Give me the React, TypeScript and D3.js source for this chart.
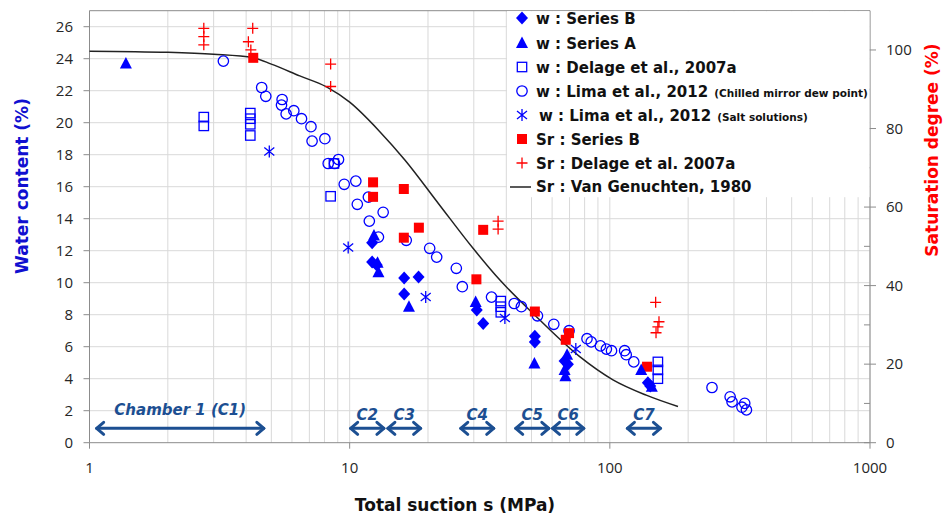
import React from 'react';
import * as d3 from 'd3';

const WIDTH = 943;
const HEIGHT = 516;

// Water content w (%) against total suction s (MPa): [s, w]
const wSeriesB: [number, number][] = [
  [12.2, 12.5], [12.2, 11.3], [12.7, 11.1], [16.2, 10.3], [18.4, 10.35], [16.2, 9.3],
  [30.8, 8.3], [32.6, 7.45], [51.5, 6.65], [51.5, 6.3], [67, 5.1], [69, 4.9],
  [140, 3.75], [143, 3.55],
];
const wSeriesA: [number, number][] = [
  [1.38, 23.7], [12.4, 12.95], [12.8, 11.25], [12.9, 10.65], [16.9, 8.5], [30.5, 8.8],
  [51.3, 4.95], [68.5, 5.5], [67, 4.55], [67.5, 4.15], [132, 4.55], [145, 3.5],
];
const wDelage: [number, number][] = [
  [2.75, 20.35], [2.75, 19.8], [4.15, 20.6], [4.15, 20.25], [4.15, 19.9], [4.15, 19.2],
  [8.45, 15.4], [8.7, 17.45], [38.1, 8.85], [38.1, 8.5], [38.1, 8.15],
  [153, 5.05], [153, 4.55], [153, 4.0],
];
const wLimaMirror: [number, number][] = [
  [3.27, 23.85], [4.59, 22.2], [4.76, 21.65], [5.5, 21.45], [5.47, 21.1], [5.7, 20.55],
  [6.1, 20.75], [6.53, 20.25], [7.1, 19.75], [7.17, 18.85], [8.03, 19.0], [8.27, 17.45],
  [8.75, 17.45], [9.06, 17.7], [9.53, 16.15], [10.56, 16.35], [10.7, 14.9], [11.8, 15.35],
  [11.9, 13.85], [13.45, 14.4], [12.9, 12.85], [16.5, 12.65], [20.3, 12.15], [21.6, 11.6],
  [25.7, 10.9], [27.1, 9.75], [35.1, 9.1], [42.9, 8.7], [45.7, 8.5], [52.7, 7.93],
  [60.9, 7.4], [69.7, 7.0], [81.7, 6.5], [84.8, 6.3], [92, 6.05], [97, 5.85],
  [101.5, 5.75], [114, 5.75], [115.6, 5.5], [123.6, 5.05], [247, 3.45], [290, 2.87],
  [295, 2.55], [330, 2.46], [322, 2.22], [335, 2.05],
];
const wLimaSalt: [number, number][] = [
  [4.91, 18.2], [9.87, 12.2], [19.6, 9.1], [39.5, 7.8], [74, 5.85],
];

// Saturation degree Sr (%) against total suction s (MPa): [s, Sr]
const srSeriesB: [number, number][] = [
  [4.26, 98.0], [12.3, 66.3], [12.3, 62.6], [16.15, 64.6], [18.45, 54.75], [16.15, 52.2],
  [32.6, 54.2], [30.7, 41.6], [51.5, 33.4], [69.7, 27.9], [67.7, 26.2], [139, 19.35],
];
const srDelage: [number, number][] = [
  [2.75, 105.5], [2.75, 103.4], [2.75, 101.3], [4.24, 105.5], [4.08, 102.1], [4.17, 100.0],
  [8.45, 96.4], [8.45, 90.7], [37.2, 56.4], [37.2, 54.4],
  [150, 35.75], [154.5, 30.8], [153, 29.5], [150.5, 28.0],
];
const srVanGenuchten: [number, number][] = [
  [1, 99.7], [2, 99.4], [3, 98.9], [4.26, 98.0], [5, 96.4], [6.43, 93.4], [8.15, 90.6],
  [10, 86.7], [13.06, 79.2], [16.3, 72.0], [22, 60.8], [29.8, 49.5], [37.8, 41.4],
  [50.7, 32.9], [76.6, 21.9], [102.8, 16.0], [138, 12.1], [182.8, 9.2],
];

// Suction ranges covered by each chamber
const chamberLabels = ['Chamber 1 (C1)', 'C2', 'C3', 'C4', 'C5', 'C6', 'C7'];
const chamberFrom = [1.056, 10.0, 13.9, 26.5, 43.1, 59.7, 115.8];
const chamberTo = [4.72, 13.66, 18.9, 36.1, 58.8, 80.1, 157.9];

const sTickValues = [1, 10, 100, 1000];
const wTickValues = d3.range(0, 27, 2);
const srTickValues = d3.range(0, 101, 20);

const BLUE = '#0000ff';
const RED = '#ff0000';
const ARROW = '#1c4f92';
const TITLE_FONT = "'DejaVu Sans', sans-serif";
const TICK_FONT = "'Open Sans', sans-serif";

type Kind = 'diamond' | 'triangle' | 'square' | 'circle' | 'asterisk' | 'redSquare' | 'plus' | 'line';

function Marker({ kind, x, y }: { kind: Kind; x: number; y: number }) {
  switch (kind) {
    case 'diamond':
      return <path d={`M${x},${y - 6.5}L${x + 6},${y}L${x},${y + 6.5}L${x - 6},${y}Z`} fill={BLUE} />;
    case 'triangle':
      return <path d={`M${x},${y - 6.5}L${x + 6},${y + 5}L${x - 6},${y + 5}Z`} fill={BLUE} />;
    case 'square':
      return <rect x={x - 4.7} y={y - 4.7} width={9.4} height={9.4} fill="none" stroke={BLUE} strokeWidth={1.3} />;
    case 'circle':
      return <circle cx={x} cy={y} r={5.2} fill="none" stroke={BLUE} strokeWidth={1.3} />;
    case 'asterisk':
      return (
        <path
          d={`M${x},${y - 6}L${x},${y + 6}M${x - 5},${y - 4}L${x + 5},${y + 4}M${x - 5},${y + 4}L${x + 5},${y - 4}`}
          stroke={BLUE}
          strokeWidth={1.3}
          fill="none"
        />
      );
    case 'redSquare':
      return <rect x={x - 5} y={y - 5} width={10} height={10} fill={RED} />;
    case 'plus':
      return (
        <path d={`M${x - 5.5},${y}L${x + 5.5},${y}M${x},${y - 5.5}L${x},${y + 5.5}`} stroke={RED} strokeWidth={1.3} fill="none" />
      );
    default:
      return <line x1={x - 12} x2={x + 9} y1={y + 1} y2={y + 1} stroke="#222" strokeWidth={1.5} />;
  }
}

const legendItems: { kind: Kind; label: string; note?: string; dx?: number }[] = [
  { kind: 'diamond', label: 'w : Series B' },
  { kind: 'triangle', label: 'w : Series A' },
  { kind: 'square', label: 'w : Delage et al., 2007a' },
  { kind: 'circle', label: 'w : Lima et al., 2012', note: '(Chilled mirror dew point)' },
  { kind: 'asterisk', label: 'w : Lima et al., 2012', note: '(Salt solutions)', dx: 3 },
  { kind: 'redSquare', label: 'Sr : Series B' },
  { kind: 'plus', label: 'Sr : Delage et al. 2007a' },
  { kind: 'line', label: 'Sr : Van Genuchten, 1980' },
];
const legendRowY = [18, 43, 67, 91, 115, 139, 163, 186];

export default function App() {
  const left = 89.5;
  const right = 870;
  const top = 10.7;
  const bottom = 442.7;

  const x = d3.scaleLog().domain([1, 1000]).range([left, right]);
  const yW = d3.scaleLinear().domain([0, 27]).range([bottom, top]);
  const ySr = d3.scaleLinear().domain([0, 110]).range([bottom, top]);

  // minor log gridlines: 1..9 in each decade
  const vGrid: number[] = [];
  for (const dec of [1, 10, 100]) for (let k = 1; k <= 9; k++) vGrid.push(dec * k);
  vGrid.push(1000);

  const curvePath = d3
    .line<[number, number]>()
    .x((d) => x(d[0]))
    .y((d) => ySr(d[1]))
    .curve(d3.curveMonotoneX)(srVanGenuchten) as string;

  const arrowY = yW(0.9);

  return (
    <svg
      width={WIDTH}
      height={HEIGHT}
      style={{ position: 'absolute', left: 0, top: 0, background: '#fff' }}
    >
      <rect width={WIDTH} height={HEIGHT} fill="#fff" />
      {/* grid */}
      <g stroke="#d9d9d9" strokeWidth={1}>
        {vGrid.map((v) => (
          <line key={`v${v}`} x1={x(v)} x2={x(v)} y1={top} y2={bottom} />
        ))}
        {wTickValues.filter((t) => t > 0).map((t) => (
          <line key={`h${t}`} x1={left} x2={right} y1={yW(t)} y2={yW(t)} />
        ))}
      </g>

      {/* frame and axes */}
      <g stroke="#8c8c8c" strokeWidth={1} fill="none">
        <line x1={left} x2={right} y1={top} y2={top} />
        <line x1={left} x2={left} y1={top} y2={bottom} />
        <line x1={right} x2={right} y1={top} y2={bottom} />
        <line x1={left} x2={right} y1={bottom} y2={bottom} />
        {wTickValues.map((t) => (
          <line key={`lt${t}`} x1={left - 6} x2={left} y1={yW(t)} y2={yW(t)} />
        ))}
        {d3.range(0, 101, 10).map((t) => (
          <line key={`rt${t}`} x1={right - 6} x2={t % 20 === 0 ? right + 6 : right} y1={ySr(t)} y2={ySr(t)} />
        ))}
        {sTickValues.map((t) => (
          <line key={`bt${t}`} x1={x(t)} x2={x(t)} y1={bottom} y2={bottom + 6} />
        ))}
      </g>

      {/* tick labels */}
      <g fontFamily={TICK_FONT} fontSize={15} fill="#262626">
        {wTickValues.map((t) => (
          <text key={`lw${t}`} x={73} y={yW(t)} dy="0.35em" textAnchor="end">
            {t}
          </text>
        ))}
        {srTickValues.map((t) => (
          <text key={`ls${t}`} x={886} y={ySr(t)} dy="0.35em" textAnchor="start">
            {t}
          </text>
        ))}
        {sTickValues.map((t) => (
          <text key={`ss${t}`} x={x(t)} y={468} dy="0.35em" textAnchor="middle">
            {t}
          </text>
        ))}
      </g>

      {/* axis titles */}
      <text
        transform={`translate(22,186) rotate(-90)`}
        textAnchor="middle"
        dy="0.35em"
        fontFamily={TITLE_FONT}
        fontWeight="bold"
        fontSize={17}
        fill="#1010d0"
      >
        Water content (%)
      </text>
      <text
        transform={`translate(932,150) rotate(-90)`}
        textAnchor="middle"
        dy="0.35em"
        fontFamily={TITLE_FONT}
        fontWeight="bold"
        fontSize={17}
        fill={RED}
      >
        Saturation degree (%)
      </text>
      <text x={455} y={505} dy="0.35em" textAnchor="middle" fontFamily={TITLE_FONT} fontWeight="bold" fontSize={17} fill="#111">
        Total suction s (MPa)
      </text>

      {/* Van Genuchten curve */}
      <path d={curvePath} fill="none" stroke="#222" strokeWidth={1.5} />

      {/* data */}
      {wDelage.map((d, i) => <Marker key={`dq${i}`} kind="square" x={x(d[0])} y={yW(d[1])} />)}
      {wLimaMirror.map((d, i) => <Marker key={`lc${i}`} kind="circle" x={x(d[0])} y={yW(d[1])} />)}
      {wLimaSalt.map((d, i) => <Marker key={`ls${i}`} kind="asterisk" x={x(d[0])} y={yW(d[1])} />)}
      {srDelage.map((d, i) => <Marker key={`sp${i}`} kind="plus" x={x(d[0])} y={ySr(d[1])} />)}
      {srSeriesB.map((d, i) => <Marker key={`sb${i}`} kind="redSquare" x={x(d[0])} y={ySr(d[1])} />)}
      {wSeriesA.map((d, i) => <Marker key={`wa${i}`} kind="triangle" x={x(d[0])} y={yW(d[1])} />)}
      {wSeriesB.map((d, i) => <Marker key={`wb${i}`} kind="diamond" x={x(d[0])} y={yW(d[1])} />)}

      {/* chamber ranges */}
      <g stroke={ARROW} strokeWidth={3} fill="none" strokeLinecap="round" strokeLinejoin="round">
        {chamberLabels.map((c, i) => {
          const x1 = x(chamberFrom[i]);
          const x2 = x(chamberTo[i]);
          return (
            <g key={c}>
              <line x1={x1 + 1} x2={x2 - 1} y1={arrowY} y2={arrowY} />
              <path d={`M${x1 + 8},${arrowY - 6}L${x1 + 1},${arrowY}L${x1 + 8},${arrowY + 6}`} />
              <path d={`M${x2 - 8},${arrowY - 6}L${x2 - 1},${arrowY}L${x2 - 8},${arrowY + 6}`} />
            </g>
          );
        })}
      </g>
      <g fontFamily={TITLE_FONT} fontWeight="bold" fontStyle="italic" fontSize={15} fill={ARROW} textAnchor="middle">
        {chamberLabels.map((c, i) => (
          <text key={c} x={(x(chamberFrom[i]) + x(chamberTo[i])) / 2} y={i === 0 ? 415 : 420}>
            {c}
          </text>
        ))}
      </g>

      {/* legend */}
      <rect x={507} y={top + 0.5} width={right - 507 - 0.5} height={186} fill="#fff" />
      {legendItems.map((it, i) => (
        <g key={i}>
          <Marker kind={it.kind} x={522} y={legendRowY[i]} />
          <text
            x={536 + (it.dx || 0)}
            y={legendRowY[i] + 5.5}
            fontFamily={TITLE_FONT}
            fontWeight="bold"
            fontSize={15}
            fill="#111"
          >
            {it.label}
            {it.note && (
              <tspan fontSize={10.5} dx={6}>
                {it.note}
              </tspan>
            )}
          </text>
        </g>
      ))}
    </svg>
  );
}
